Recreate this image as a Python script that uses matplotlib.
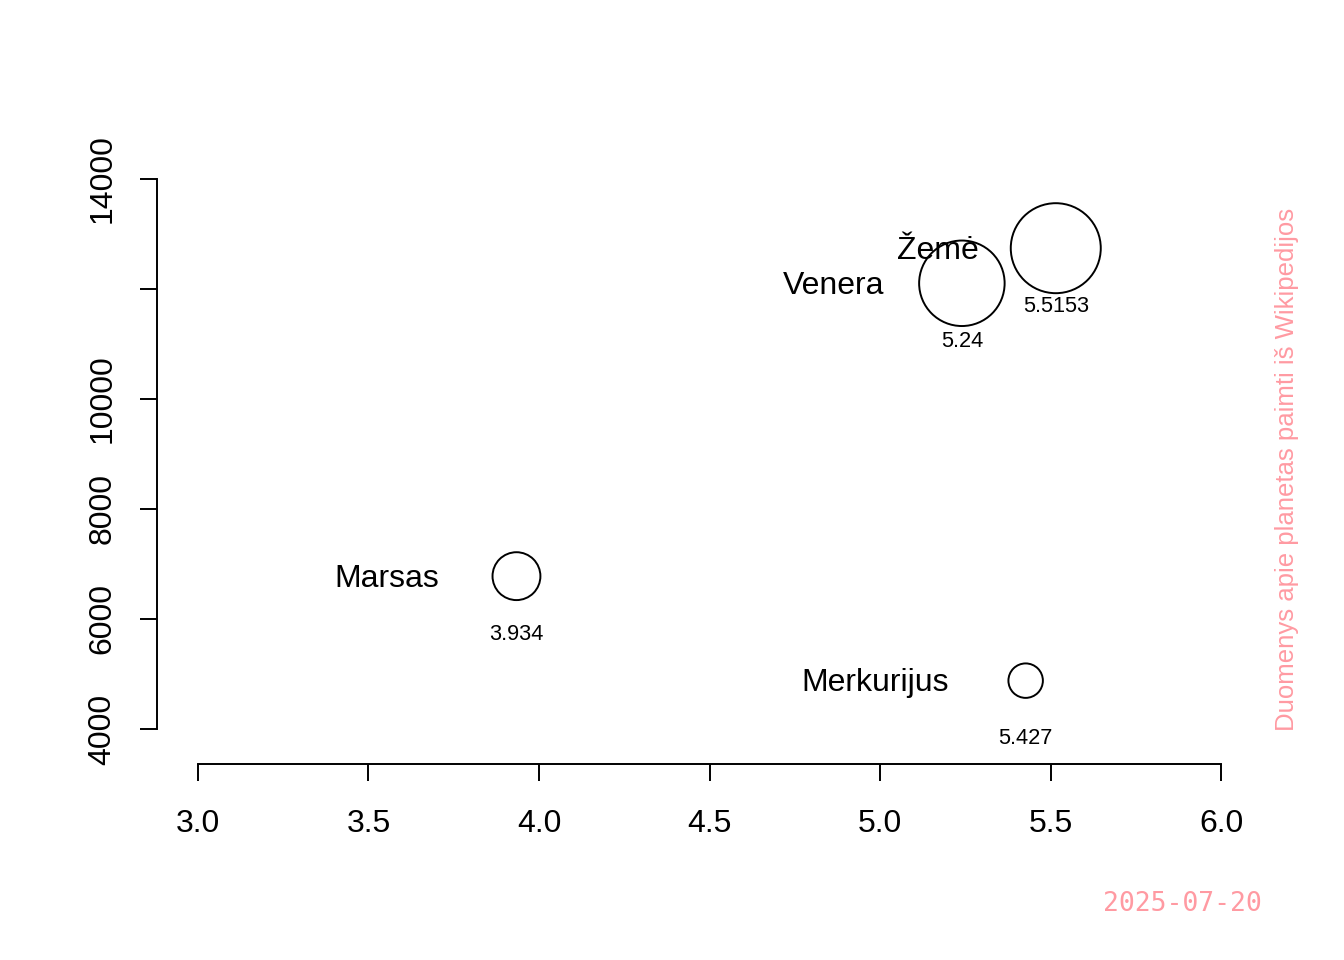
import numpy as np
import matplotlib.pyplot as plt

plt.rcParams["font.family"] = ["Liberation Sans", "DejaVu Sans"]

planets = ["Merkurijus", "Venera", "Žemė", "Marsas"]
density = [5.427, 5.24, 5.5153, 3.934]
diameter = [4879, 12104, 12742, 6779]

x_ticks = [3.0, 3.5, 4.0, 4.5, 5.0, 5.5, 6.0]
y_ticks = [4000, 6000, 8000, 10000, 12000, 14000]
y_labels = ["4000", "6000", "8000", "10000", "", "14000"]

pink = "#FF9AA2"

fig = plt.figure(figsize=(13.44, 9.6), dpi=100)
ax = fig.add_axes([157 / 1344, 196 / 960, 1105 / 1344, 614 / 960])

# circle size proportional to diameter (Earth ~90 px across)
d_px = np.array(diameter) * 90 / 12742
sizes = (d_px * 0.72) ** 2

ax.scatter(density, diameter, s=sizes, facecolors="none",
           edgecolors="black", linewidths=1.4, zorder=3)

for name, x, y in zip(planets, density, diameter):
    ax.text(x - 0.226, y - 50, name, ha="right", va="center", fontsize=23)
    ax.text(x, y - 1055, str(x), ha="center", va="center", fontsize=15.7)

ax.set_xlim(2.88, 6.12)
ax.set_ylim(3363.6, 14527.3)

for s in ["top", "right"]:
    ax.spines[s].set_visible(False)
ax.spines["left"].set_bounds(4000, 14000)
ax.spines["bottom"].set_bounds(3.0, 6.0)
ax.spines["left"].set_linewidth(1.4)
ax.spines["bottom"].set_linewidth(1.4)

ax.set_xticks(x_ticks)
ax.set_xticklabels([f"{v:.1f}" for v in x_ticks])
ax.set_yticks(y_ticks)
ax.set_yticklabels(y_labels, rotation=90, va="center")
ax.tick_params(axis="both", length=12.5, width=1.4, labelsize=23)
ax.tick_params(axis="x", pad=20)
ax.tick_params(axis="y", pad=16)

fig.text(1287 / 1344, 1 - 469 / 960,
         "Duomenys apie planetas paimti iš Wikipedijos",
         rotation=90, ha="center", va="center", color=pink, fontsize=18.5)
fig.text(1262 / 1344, 1 - 904 / 960, "2025-07-20", ha="right", va="center",
         color=pink, fontsize=19, family="DejaVu Sans Mono")

fig.savefig("out.png", dpi=100)
